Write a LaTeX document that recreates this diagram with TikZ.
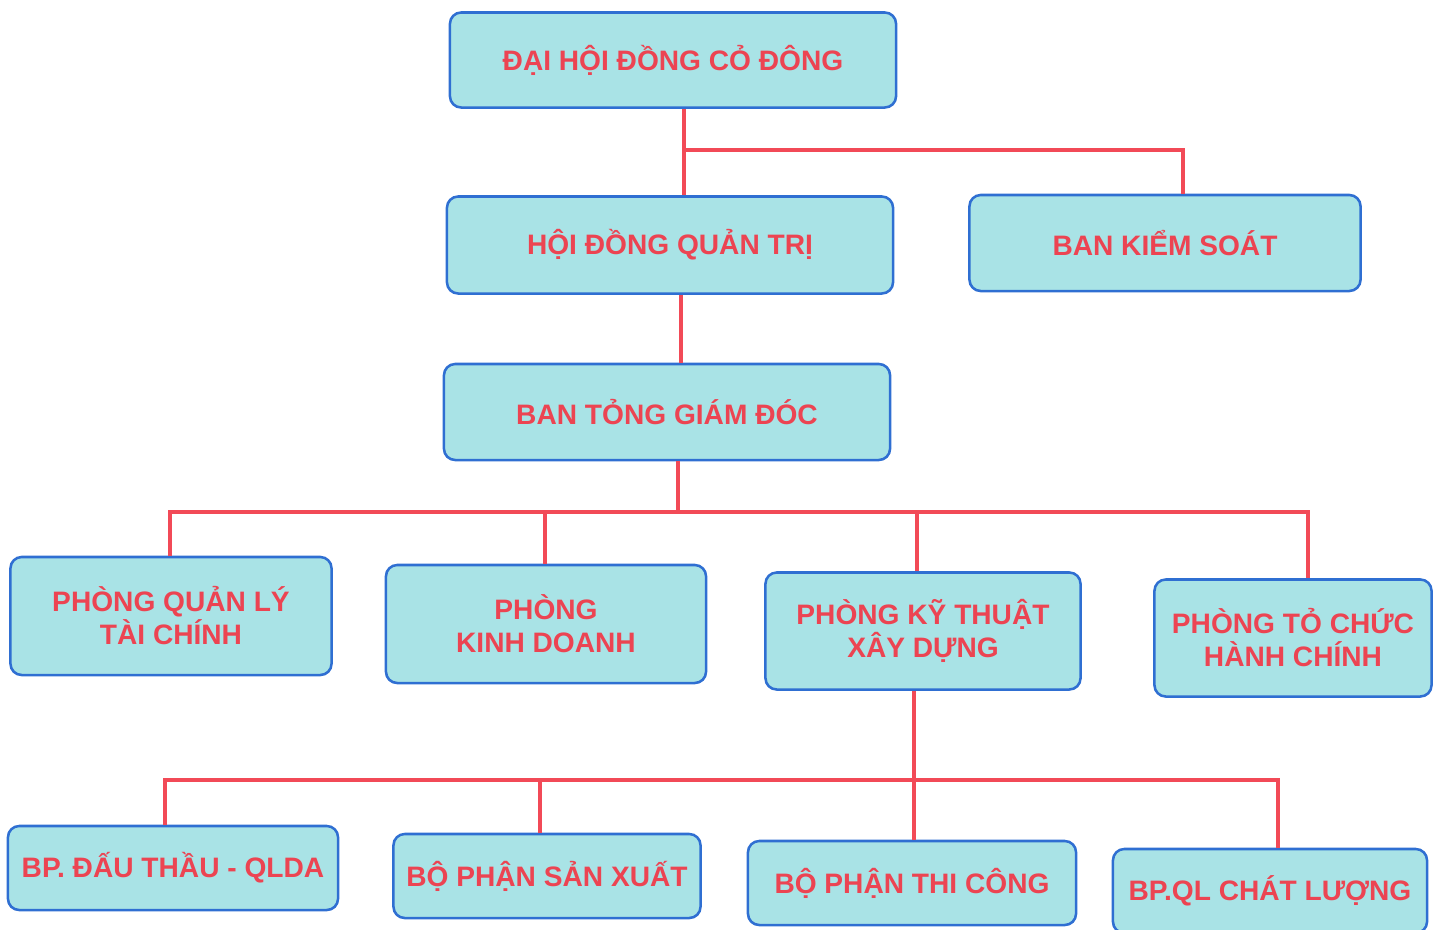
\documentclass[tikz,border=0pt]{standalone}
\usepackage{fontspec}
\setmainfont{Liberation Sans}
\usepackage{tikz}
\usetikzlibrary{positioning}
\usepackage{xcolor}
\definecolor{boxfill}{HTML}{A9E3E6}
\definecolor{boxline}{HTML}{2F6FD2}
\definecolor{linkred}{HTML}{F24A57}
\definecolor{textred}{HTML}{EC4452}

\begin{document}
\begin{tikzpicture}[x=0.025cm,y=-0.025cm]
	\useasboundingbox (0,0) rectangle (1440,929);
	\begin{scope}[every node/.style={rectangle,rounded corners=8pt,draw=boxline,line width=1.8pt,fill=boxfill,text=textred,align=center,inner sep=0pt,font=\fontsize{20}{23.5}\selectfont\bfseries}]
		\node[minimum width=11.15cm,minimum height=2.375cm] (dhcd) at (673,60) {ĐẠI HỘI ĐỒNG CỎ ĐÔNG};
		\node[minimum width=11.15cm,minimum height=2.425cm] (hdqt) at (670,245) {HỘI ĐỒNG QUẢN TRỊ};
		\node[minimum width=9.775cm,minimum height=2.4cm] (bks) at (1165,243) {BAN KIỂM SOÁT};
		\node[minimum width=11.15cm,minimum height=2.4cm] (btgd) at (667,412) {BAN TỎNG GIÁM ĐÓC};
		
		\node[minimum width=8.025cm,minimum height=2.95cm] (pqltc) at (171,616) {PHÒNG QUẢN LÝ\\TÀI CHÍNH};
		\node[minimum width=8cm,minimum height=2.95cm] (pkd) at (546,624) {PHÒNG\\KINH DOANH};
		\node[minimum width=7.875cm,minimum height=2.925cm] (pktxd) at (923,631) {PHÒNG KỸ THUẬT\\XÂY DỰNG};
		\node[minimum width=6.925cm,minimum height=2.925cm] (ptchc) at (1293,638) {PHÒNG TỎ CHỨC\\HÀNH CHÍNH};
		
		\node[minimum width=8.25cm,minimum height=2.1cm] (bpdt) at (173,868) {BP. ĐẤU THẦU - QLDA};
		\node[minimum width=7.675cm,minimum height=2.1cm] (bpsx) at (547,876) {BỘ PHẬN SẢN XUẤT};
		\node[minimum width=8.2cm,minimum height=2.1cm] (bptc) at (912,883) {BỘ PHẬN THI CÔNG};
		\node[minimum width=7.85cm,minimum height=2.1cm] (bpql) at (1270,891) {BP.QL CHÁT LƯỢNG};
	\end{scope}
	% junctions of the red lines
	\coordinate (j1) at (684,150);
	\coordinate (j2) at (678,512);
	\coordinate (j3) at (914,780);
	\begin{scope}[every path/.style={draw=linkred,line width=3.5pt}]
		\draw (dhcd.south -| j1) -- (j1);
		\draw (j1) -- (hdqt.north -| j1);
		\draw (j1) -| (bks.north -| 1183,0);
		\draw (hdqt.south -| 681,0) -- (btgd.north -| 681,0);
		
		\draw (btgd.south -| j2) -- (j2);
		\draw (j2) -| (pqltc.north -| 170,0);
		\draw (j2) -| (ptchc.north -| 1308,0);
		\draw (j2 -| 545,0) -- (pkd.north -| 545,0);
		\draw (j2 -| 917,0) -- (pktxd.north -| 917,0);
		
		\draw (pktxd.south -| j3) -- (j3);
		\draw (j3) -| (bpdt.north -| 165,0);
		\draw (j3) -| (bpql.north -| 1278,0);
		\draw (j3 -| 540,0) -- (bpsx.north -| 540,0);
		\draw (j3) -- (bptc.north -| j3);
	\end{scope}
\end{tikzpicture}
\end{document}
